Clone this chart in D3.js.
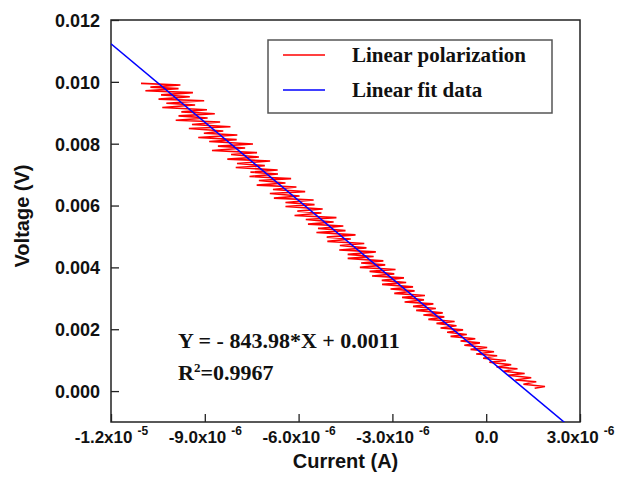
<!DOCTYPE html>
<html>
<head>
<meta charset="utf-8">
<script src="https://cdn.jsdelivr.net/npm/d3@7"></script>
<style>
  body { margin: 0; background: #fff; }
  svg { display: block; }
</style>
</head>
<body>
<svg id="chart" width="643" height="483"></svg>
<script>
const voltage = [
  9.95, 9.90, 9.83, 9.78, 9.71, 9.65, 9.58, 9.52, 9.44, 9.39,
  9.31, 9.25, 9.17, 9.10, 9.03, 8.97, 8.90, 8.83, 8.76, 8.70,
  8.62, 8.55, 8.49, 8.41, 8.34, 8.28, 8.20, 8.13, 8.07, 7.99,
  7.92, 7.86, 7.78, 7.71, 7.65, 7.57, 7.50, 7.44, 7.36, 7.29,
  7.23, 7.15, 7.08, 7.02, 6.94, 6.87, 6.81, 6.73, 6.66, 6.60,
  6.52, 6.45, 6.39, 6.31, 6.24, 6.18, 6.10, 6.03, 5.97, 5.89,
  5.82, 5.76, 5.68, 5.61, 5.55, 5.47, 5.40, 5.34, 5.26, 5.19,
  5.13, 5.05, 4.98, 4.92, 4.84, 4.77, 4.71, 4.63, 4.56, 4.50,
  4.42, 4.35, 4.29, 4.21, 4.14, 4.08, 4.00, 3.93, 3.87, 3.79,
  3.72, 3.66, 3.58, 3.51, 3.45, 3.37, 3.30, 3.24, 3.16, 3.09,
  3.03, 2.95, 2.88, 2.82, 2.74, 2.67, 2.61, 2.53, 2.46, 2.40,
  2.32, 2.25, 2.19, 2.11, 2.04, 1.98, 1.90, 1.83, 1.77, 1.69,
  1.62, 1.56, 1.48, 1.41, 1.35, 1.27, 1.20, 1.14, 1.06, 0.99,
  0.93, 0.85, 0.78, 0.72, 0.64, 0.57, 0.51, 0.43, 0.36, 0.30,
  0.22, 0.15, 0.09
];
const current = [
  -11.04, -9.78, -10.74, -9.84, -10.90, -9.38, -10.40, -9.48, -10.48, -9.02,
  -10.23, -9.31, -10.36, -8.93, -9.75, -8.68, -9.84, -8.91, -9.93, -8.51,
  -9.41, -8.18, -9.51, -8.41, -9.03, -7.96, -9.21, -7.98, -8.86, -7.46,
  -8.58, -7.71, -8.77, -7.33, -8.16, -7.27, -8.28, -6.91, -7.97, -7.08,
  -8.01, -6.67, -7.54, -6.66, -7.57, -6.24, -7.27, -6.42, -7.34, -6.07,
  -6.82, -5.79, -6.92, -5.97, -6.79, -5.52, -6.42, -5.49, -6.42, -5.23,
  -6.04, -5.27, -6.13, -4.79, -5.77, -4.88, -5.70, -4.57, -5.38, -4.50,
  -5.43, -4.18, -5.10, -4.33, -5.08, -3.90, -4.68, -3.83, -4.70, -3.53,
  -4.43, -3.60, -4.43, -3.29, -4.00, -3.23, -4.04, -2.90, -3.73, -2.94,
  -3.65, -2.63, -3.34, -2.56, -3.33, -2.34, -3.06, -2.29, -2.94, -1.96,
  -2.69, -1.99, -2.61, -1.69, -2.34, -1.61, -2.24, -1.39, -2.01, -1.34,
  -1.85, -1.01, -1.59, -0.95, -1.46, -0.74, -1.25, -0.62, -1.14, -0.35,
  -0.82, -0.20, -0.70, 0.03, -0.50, 0.25, -0.32, 0.35, -0.10, 0.63,
  0.10, 0.80, 0.33, 1.00, 0.55, 1.23, 0.70, 1.44, 0.93, 1.60,
  1.19, 1.88, 1.55
];

// linear fit reported on the chart
const fitSlope = -843.98;
const fitIntercept = 0.0011;
const fitRange = [-1.2e-5, 3.0e-6];

const xTicks = [-1.2e-5, -9.0e-6, -6.0e-6, -3.0e-6, 0, 3.0e-6];
const xTickMant = ['-1.2x10', '-9.0x10', '-6.0x10', '-3.0x10', '0.0', '3.0x10'];
const xTickExp = ['-5', '-6', '-6', '-6', '', '-6'];
const yTicks = [0, 0.002, 0.004, 0.006, 0.008, 0.010, 0.012];

const legendItems = ['Linear polarization', 'Linear fit data'];
const legendColors = ['#ff0000', '#0000ff'];

const width = 643, height = 483;
const margin = {top: 20, right: 63, bottom: 61, left: 111};
const innerwidth = width - margin.left - margin.right;
const innerheight = height - margin.top - margin.bottom;

const svg = d3.select('#chart');
const g = svg.append('g')
    .attr('transform', `translate(${margin.left},${margin.top})`);

const xScale = d3.scaleLinear()
    .domain([-1.2e-5, 3.0e-6])
    .range([0, innerwidth]);
const yScale = d3.scaleLinear()
    .domain([-0.001, 0.012])
    .range([innerheight, 0]);

g.append('clipPath').attr('id', 'clip')
  .append('rect').attr('width', innerwidth).attr('height', innerheight);

// y axis (ticks inward)
const yAxisG = g.append('g')
    .call(d3.axisLeft(yScale).tickValues(yTicks).tickSize(-8).tickSizeOuter(0)
      .tickPadding(11).tickFormat(d3.format('.3f')));
yAxisG.select('.domain').remove();
yAxisG.selectAll('line').attr('stroke', '#222').attr('stroke-width', 1.3);
yAxisG.selectAll('text')
    .attr('font-family', 'Liberation Sans, Arial, sans-serif')
    .attr('font-weight', 'bold').attr('font-size', 18).attr('fill', '#111')
    .attr('dy', '0.35em');

// x axis (ticks inward), labels with superscript exponents
const xAxisG = g.append('g')
    .attr('transform', `translate(0,${innerheight})`)
    .call(d3.axisBottom(xScale).tickValues(xTicks).tickSize(-8).tickSizeOuter(0)
      .tickFormat(''));
xAxisG.select('.domain').remove();
xAxisG.selectAll('line').attr('stroke', '#222').attr('stroke-width', 1.3);
xAxisG.selectAll('.tick').each(function (d, i) {
  const t = d3.select(this).select('text')
      .attr('y', 21)
      .attr('dy', null)
      .attr('font-family', 'Liberation Sans, Arial, sans-serif')
      .attr('font-weight', 'bold').attr('fill', '#111')
      .attr('text-anchor', 'middle');
  t.append('tspan').attr('font-size', 17).text(xTickMant[i]);
  if (xTickExp[i]) {
    t.append('tspan').attr('font-size', 12).attr('dx', 5).attr('dy', -8).text(xTickExp[i]);
  }
});

// frame
g.append('rect')
    .attr('width', innerwidth).attr('height', innerheight)
    .attr('fill', 'none').attr('stroke', '#222').attr('stroke-width', 1.5);

// axis labels
g.append('text')
    .attr('x', innerwidth / 2).attr('y', innerheight + 46)
    .attr('text-anchor', 'middle')
    .attr('font-family', 'Liberation Sans, Arial, sans-serif')
    .attr('font-weight', 'bold').attr('font-size', 20).attr('fill', '#111')
    .text('Current (A)');
g.append('text')
    .attr('transform', 'rotate(-90)')
    .attr('x', -innerheight / 2 + 5).attr('y', -82)
    .attr('text-anchor', 'middle')
    .attr('font-family', 'Liberation Sans, Arial, sans-serif')
    .attr('font-weight', 'bold').attr('font-size', 20).attr('fill', '#111')
    .text('Voltage (V)');

// data line
const data = voltage.map((v, i) => ({I: current[i] * 1e-6, V: v * 1e-3}));
const lineGen = d3.line()
    .x(d => xScale(d.I))
    .y(d => yScale(d.V));

const plotG = g.append('g').attr('clip-path', 'url(#clip)');
plotG.append('path')
    .datum(data)
    .attr('d', lineGen)
    .attr('fill', 'none')
    .attr('stroke', legendColors[0])
    .attr('stroke-width', 1.6);

// fit line
const fitData = fitRange.map(I => ({I: I, V: fitSlope * I + fitIntercept}));
plotG.append('path')
    .datum(fitData)
    .attr('d', lineGen)
    .attr('fill', 'none')
    .attr('stroke', legendColors[1])
    .attr('stroke-width', 1.5);

// legend
const legendG = svg.append('g').attr('transform', 'translate(268,40)');
legendG.append('rect')
    .attr('width', 284).attr('height', 73)
    .attr('fill', '#fff').attr('stroke', '#555').attr('stroke-width', 1.5);
legendItems.forEach((name, i) => {
  const y = 15 + i * 35;
  legendG.append('line')
      .attr('x1', 15).attr('x2', 57).attr('y1', y).attr('y2', y)
      .attr('stroke', legendColors[i]).attr('stroke-width', 1.5);
  legendG.append('text')
      .attr('x', 84).attr('y', y + 7)
      .attr('font-family', 'Liberation Serif, Times New Roman, serif')
      .attr('font-weight', 'bold').attr('font-size', 21).attr('fill', '#111')
      .text(name);
});

// fit equation
const eqG = svg.append('g')
    .attr('font-family', 'Liberation Serif, Times New Roman, serif')
    .attr('font-weight', 'bold').attr('font-size', 22).attr('fill', '#111');
eqG.append('text').attr('x', 178).attr('y', 348)
    .text(`Y = - ${Math.abs(fitSlope).toFixed(2)}*X + ${fitIntercept}`);
const r2 = eqG.append('text').attr('x', 178).attr('y', 380);
r2.append('tspan').text('R');
r2.append('tspan').attr('font-size', 13).attr('dy', -8).text('2');
r2.append('tspan').attr('dy', 8).text('=0.9967');
</script>
</body>
</html>
